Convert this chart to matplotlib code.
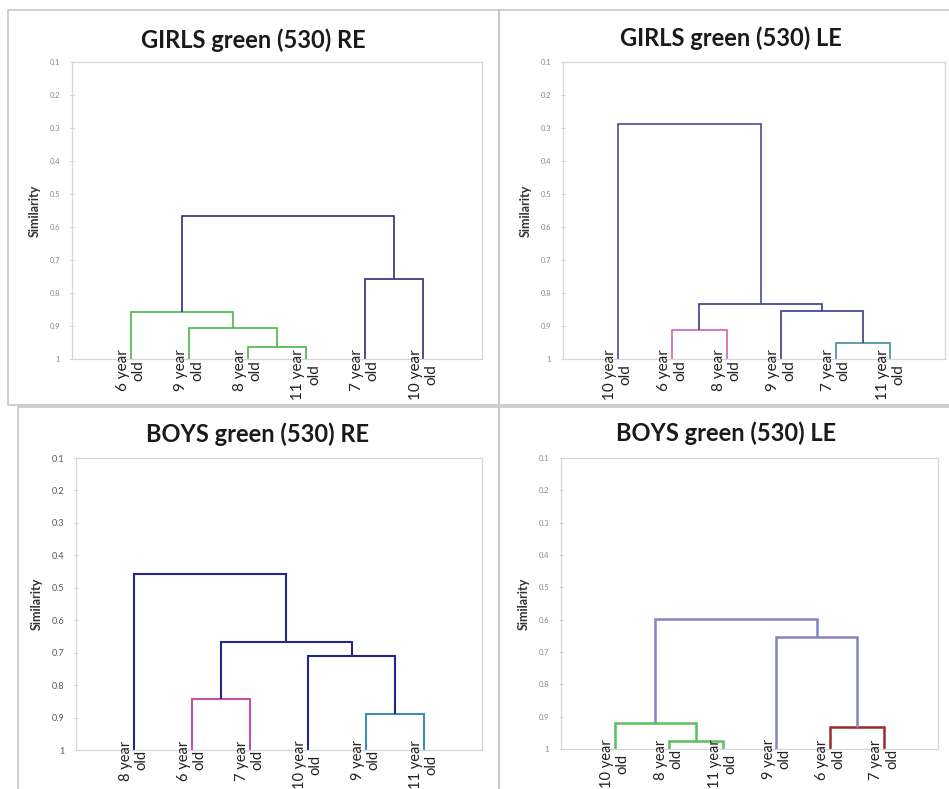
import matplotlib

matplotlib.use("Agg")
import matplotlib.pyplot as plt
from matplotlib.patches import Rectangle
from matplotlib.transforms import Bbox, TransformedBbox, offset_copy

plt.rcParams["font.family"] = ["Lato", "DejaVu Sans"]

W, H = 949, 789  # tamanho final em pixels

# eixo de similaridade (invertido: 1 embaixo)
Y_TICKS = [0.1, 0.2, 0.3, 0.4, 0.5, 0.6, 0.7, 0.8, 0.9, 1.0]
Y_TICK_LABELS = ["0.1", "0.2", "0.3", "0.4", "0.5", "0.6", "0.7", "0.8", "0.9", "1"]

# --- dados: folhas na ordem do dendrograma, fusões (a, b, altura), cor de cada fusão
GIRLS_RE_TITLE = "GIRLS green (530) RE"
GIRLS_RE_LEAVES = ["6 year\nold", "9 year\nold", "8 year\nold", "11 year\nold", "7 year\nold", "10 year\nold"]
GIRLS_RE_MERGES = [(2, 3, 0.964), (1, 6, 0.906), (0, 7, 0.858), (4, 5, 0.758), (8, 9, 0.567)]
GIRLS_RE_COLORS = ["#46b946", "#46b946", "#46b946", "#2e2e7e", "#2e2e7e"]

GIRLS_LE_TITLE = "GIRLS green (530) LE"
GIRLS_LE_LEAVES = ["10 year\nold", "6 year\nold", "8 year\nold", "9 year\nold", "7 year\nold", "11 year\nold"]
GIRLS_LE_MERGES = [(4, 5, 0.952), (1, 2, 0.912), (3, 6, 0.855), (7, 8, 0.833), (0, 9, 0.288)]
GIRLS_LE_COLORS = ["#3f8f9c", "#d064b4", "#3c3c8a", "#3c3c8a", "#4a4a9a"]

BOYS_RE_TITLE = "BOYS green (530) RE"
BOYS_RE_LEAVES = ["8 year\nold", "6 year\nold", "7 year\nold", "10 year\nold", "9 year\nold", "11 year\nold"]
BOYS_RE_MERGES = [(4, 5, 0.890), (1, 2, 0.843), (3, 6, 0.709), (7, 8, 0.666), (0, 9, 0.457)]
BOYS_RE_COLORS = ["#3b8fb0", "#c4529c", "#26268a", "#26268a", "#26268a"]

BOYS_LE_TITLE = "BOYS green (530) LE"
BOYS_LE_LEAVES = ["10 year\nold", "8 year\nold", "11 year\nold", "9 year\nold", "6 year\nold", "7 year\nold"]
BOYS_LE_MERGES = [(1, 2, 0.975), (4, 5, 0.933), (0, 6, 0.919), (3, 7, 0.655), (8, 9, 0.598)]
BOYS_LE_COLORS = ["#5cbf5c", "#9e2a2a", "#5cbf5c", "#8484bf", "#8484bf"]


def fx(px):
    return px / W


def fy(py):
    return 1 - py / H


def draw_dendro(ax, leaves, merges, colors, lw):
    n = len(leaves)
    xs = {i: i + 1 for i in range(n)}
    hs = {i: 1.0 for i in range(n)}
    for k, ((a, b, h), c) in enumerate(zip(merges, colors)):
        ax.plot([xs[a], xs[a], xs[b], xs[b]], [hs[a], h, h, hs[b]],
                color=c, lw=lw, solid_joinstyle="miter", solid_capstyle="butt")
        xs[n + k] = (xs[a] + xs[b]) / 2
        hs[n + k] = h


def panel(fig, box, frame, title, title_xy, leaves, merges, colors, lw,
          tick_fs, tick_color, clip_bottom, leaf_fs):
    l, t, r, b = box
    ax = fig.add_axes([fx(l), fy(b), fx(r - l), (b - t) / H])
    draw_dendro(ax, leaves, merges, colors, lw)
    ax.set_xlim(0, 7)
    ax.set_ylim(1, 0.1)
    ax.set_xticks([])
    ax.set_yticks(Y_TICKS)
    ax.set_yticklabels(Y_TICK_LABELS)
    ax.tick_params(axis="y", length=3, width=0.6, color="#c8c8c8",
                   labelsize=tick_fs, labelcolor=tick_color, pad=7, direction="inout")
    for s in ax.spines.values():
        s.set_color("#d6d6d6")
        s.set_linewidth(0.9)
    ax.set_ylabel("Similarity", fontsize=9, fontweight="bold", color="#333333", labelpad=6)

    # rótulos das folhas, texto girado com duas linhas
    clip = TransformedBbox(Bbox([[fx(0), fy(clip_bottom)], [fx(W), fy(0)]]), fig.transFigure)
    trans = offset_copy(ax.get_xaxis_transform(), fig=fig, x=0, y=7, units="points")
    for i, lab in enumerate(leaves):
        tx = ax.text(i + 1, 0, lab, transform=trans, rotation=90, ha="center", va="top",
                     multialignment="center", fontsize=leaf_fs, color="#222222",
                     linespacing=1.15)
        tx.set_clip_box(clip)
        tx.set_clip_on(True)

    fx0, fy0, fx1, fy1 = frame
    fig.add_artist(Rectangle((fx(fx0), fy(fy1)), fx(fx1 - fx0), (fy1 - fy0) / H,
                             transform=fig.transFigure, fill=False,
                             edgecolor="#c6c6c6", lw=1.2))
    fig.text(fx(title_xy[0]), fy(title_xy[1]), title, ha="center", va="center",
             fontsize=17, fontweight="bold", color="#1a1a1a")
    return ax


fig = plt.figure(figsize=(W / 100, H / 100), dpi=100)
fig.patch.set_facecolor("white")

panel(fig, (72, 62, 482, 359), (8, 10, 499, 405), GIRLS_RE_TITLE, (253, 40),
      GIRLS_RE_LEAVES, GIRLS_RE_MERGES, GIRLS_RE_COLORS, 1.2, 5.5, "#8a8a8a", 405, 11)
panel(fig, (563, 62, 945, 359), (499, 10, 960, 405), GIRLS_LE_TITLE, (731, 38),
      GIRLS_LE_LEAVES, GIRLS_LE_MERGES, GIRLS_LE_COLORS, 1.2, 5.5, "#8a8a8a", 405, 11)
panel(fig, (76, 458, 482, 750), (18, 407, 499, 800), BOYS_RE_TITLE, (257, 434),
      BOYS_RE_LEAVES, BOYS_RE_MERGES, BOYS_RE_COLORS, 1.5, 6.5, "#555555", H, 10.5)
panel(fig, (561, 458, 938, 749), (499, 407, 960, 800), BOYS_LE_TITLE, (726, 433),
      BOYS_LE_LEAVES, BOYS_LE_MERGES, BOYS_LE_COLORS, 1.8, 5.5, "#8a8a8a", H, 10.5)

fig.savefig("out.png", dpi=100)
